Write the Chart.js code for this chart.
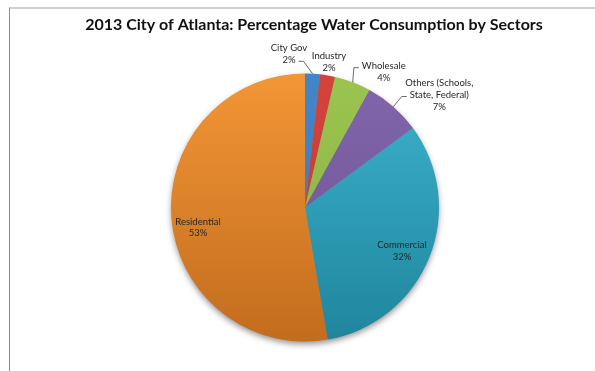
<!DOCTYPE html>
<html>
<head>
<meta charset="utf-8">
<script src="https://cdn.jsdelivr.net/npm/chart.js@4.4.1/dist/chart.umd.min.js"></script>
<style>
  html, body { margin: 0; padding: 0; background: #fff; }
  #wrap { position: relative; width: 595px; height: 371px; overflow: hidden; }
  #frame { position: absolute; left: 9px; top: 7px; width: 600px; height: 400px;
           border-top: 2px solid #cfcfcf; border-left: 1px solid #8a8a8a; box-sizing: border-box; }
  canvas { position: absolute; left: 0; top: 0; }
</style>
</head>
<body>
<div id="wrap">
  <div id="frame"></div>
  <canvas id="c" width="595" height="371"></canvas>
</div>
<script>
// ---- data ----
const titleText = '2013 City of Atlanta: Percentage Water Consumption by Sectors';
const categories = ['City Gov', 'Industry', 'Wholesale', 'Others (Schools, State, Federal)', 'Commercial', 'Residential'];
const labelLines = [['City Gov'], ['Industry'], ['Wholesale'], ['Others (Schools,', 'State, Federal)'], ['Commercial'], ['Residential']];
const shares = [1.8, 1.8, 4.4, 6.9, 32.4, 52.7];

// ---- styles ----
const colorTop    = ['#4386c8', '#d4433c', '#9bc54f', '#8266ac', '#3db4cd', '#f39636'];
const colorBottom = ['#3a78b4', '#bd3a34', '#86ad43', '#6b5192', '#1f859d', '#c26c1d'];
// label placement relative to the outer arc point at each slice's mid angle
const labelStyle = [
  { dx: -23.6, dy: -19.7, leader: { line: 1, side: 'right' } },
  { dx: 1.4,  dy: -13.4, leader: null },
  { dx: 31,   dy: -10.3, leader: { line: 0, side: 'left' } },
  { dx: 46,   dy: -11.7, leader: { line: 1, side: 'left' } },
  { dx: -27.3, dy: -6.6, leader: null },
  { dx: 26.5, dy: 8.6,  leader: null }
];
const LABEL_FONT = '9.5px Lato';
const LINE_H = 11.6;

function grad(ctx, i) {
  const ca = ctx.chart.chartArea;
  if (!ca) return colorTop[i];
  const g = ctx.chart.ctx.createLinearGradient(0, ca.top, 0, ca.bottom);
  g.addColorStop(0, colorTop[i]);
  g.addColorStop(1, colorBottom[i]);
  return g;
}

const titlePlugin = {
  id: 'titleDraw',
  afterDraw(chart) {
    const ctx = chart.ctx;
    ctx.save();
    ctx.font = 'bold 16px Lato';
    ctx.fillStyle = '#111';
    ctx.textAlign = 'center';
    ctx.textBaseline = 'middle';
    ctx.fillText(titleText, 314, 25);
    ctx.restore();
  }
};

const shadowPlugin = {
  id: 'pieShadow',
  beforeDatasetsDraw(chart) {
    const arc = chart.getDatasetMeta(0).data[0];
    if (!arc) return;
    const ctx = chart.ctx;
    ctx.save();
    ctx.shadowColor = 'rgba(0,0,0,0.45)';
    ctx.shadowBlur = 6;
    ctx.shadowOffsetY = 3;
    ctx.fillStyle = '#888';
    ctx.beginPath();
    ctx.arc(arc.x, arc.y, arc.outerRadius - 0.5, 0, Math.PI * 2);
    ctx.fill();
    ctx.restore();
  }
};

const labelPlugin = {
  id: 'sliceLabels',
  afterDatasetsDraw(chart) {
    const ctx = chart.ctx;
    const meta = chart.getDatasetMeta(0);
    ctx.save();
    ctx.font = LABEL_FONT;
    ctx.fillStyle = '#262626';
    ctx.textAlign = 'center';
    ctx.textBaseline = 'middle';
    meta.data.forEach((arc, i) => {
      const mid = (arc.startAngle + arc.endAngle) / 2;
      const px = arc.x + Math.cos(mid) * arc.outerRadius;
      const py = arc.y + Math.sin(mid) * arc.outerRadius;
      const st = labelStyle[i];
      const cx = px + st.dx, cy = py + st.dy;
      const lines = labelLines[i].concat([Math.round(shares[i]) + '%']);
      const y0 = cy - (lines.length - 1) * LINE_H / 2;
      lines.forEach((t, k) => ctx.fillText(t, cx, y0 + k * LINE_H));
      if (st.leader) {
        const t = lines[st.leader.line];
        const w = ctx.measureText(t).width;
        const ly = y0 + st.leader.line * LINE_H + 1.5;
        const sgn = st.leader.side === 'right' ? 1 : -1;
        const ex = cx + sgn * (w / 2 + 3);
        const elx = ex + sgn * 5;
        ctx.beginPath();
        ctx.strokeStyle = '#444';
        ctx.lineWidth = 0.8;
        ctx.moveTo(ex, ly);
        ctx.lineTo(elx, ly);
        ctx.lineTo(px, py);
        ctx.stroke();
      }
    });
    ctx.restore();
  }
};

new Chart(document.getElementById('c'), {
  type: 'pie',
  data: {
    labels: categories,
    datasets: [{
      data: shares,
      backgroundColor: (ctx) => grad(ctx, ctx.dataIndex),
      borderWidth: 0
    }]
  },
  options: {
    responsive: false,
    animation: false,
    layout: { padding: { left: 165, right: 150, top: 73.5, bottom: 29.5 } },
    plugins: { legend: { display: false }, tooltip: { enabled: false }, title: { display: false } }
  },
  plugins: [shadowPlugin, labelPlugin, titlePlugin]
});
</script>
</body>
</html>
